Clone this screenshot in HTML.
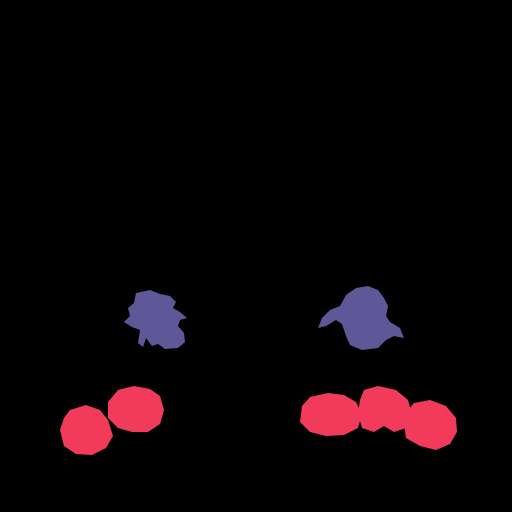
<!DOCTYPE html>
<html>
<head>
<meta charset="utf-8">
<style>
  html,body{margin:0;padding:0;background:#000;}
  svg{display:block;}
</style>
</head>
<body>
<svg width="512" height="512" viewBox="0 0 512 512">
  <rect width="512" height="512" fill="#000"/>
  <!-- purple regions -->
  <path fill="#5f5898"
    d="M136,293 L150,290 L160,294 L170,296 L176,302 L173,308 L180,312 L187,318 L180,320 L178,326 L184,333 L185,342 L178,348 L165,349 L158,344 L152,346 L146,338 L143,347 L138,343 L140,330 L132,327 L124,322 L130,316 L128,308 L134,303 Z"/>
  <path fill="#5f5898"
    d="M346,295 L356,288 L368,286 L378,290 L384,298 L388,306 L386,316 L390,322 L400,328 L404,338 L394,336 L386,340 L378,348 L362,350 L350,345 L346,336 L342,324 L336,320 L326,326 L318,328 L322,318 L330,310 L340,306 Z"/>
  <!-- red regions -->
  <path fill="#f23b5b"
    d="M70,410 L86,405 L100,410 L108,420 L113,436 L106,448 L92,455 L76,454 L64,446 L60,430 L64,418 Z"/>
  <path fill="#f23b5b"
    d="M118,390 L134,386 L150,389 L160,396 L164,410 L160,424 L148,432 L132,432 L118,428 L108,418 L108,402 Z"/>
  <path fill="#f23b5b"
    d="M310,397 L328,393 L344,395 L356,402 L362,414 L358,428 L344,435 L326,436 L310,432 L300,422 L302,406 Z"/>
  <path fill="#f23b5b"
    d="M364,390 L378,386 L396,390 L408,400 L412,414 L406,428 L394,432 L384,426 L374,432 L362,428 L358,414 L360,400 Z"/>
  <path fill="#f23b5b"
    d="M414,403 L430,400 L446,406 L456,418 L457,432 L450,444 L436,450 L420,446 L406,438 L404,424 L408,410 Z"/>
</svg>
</body>
</html>
